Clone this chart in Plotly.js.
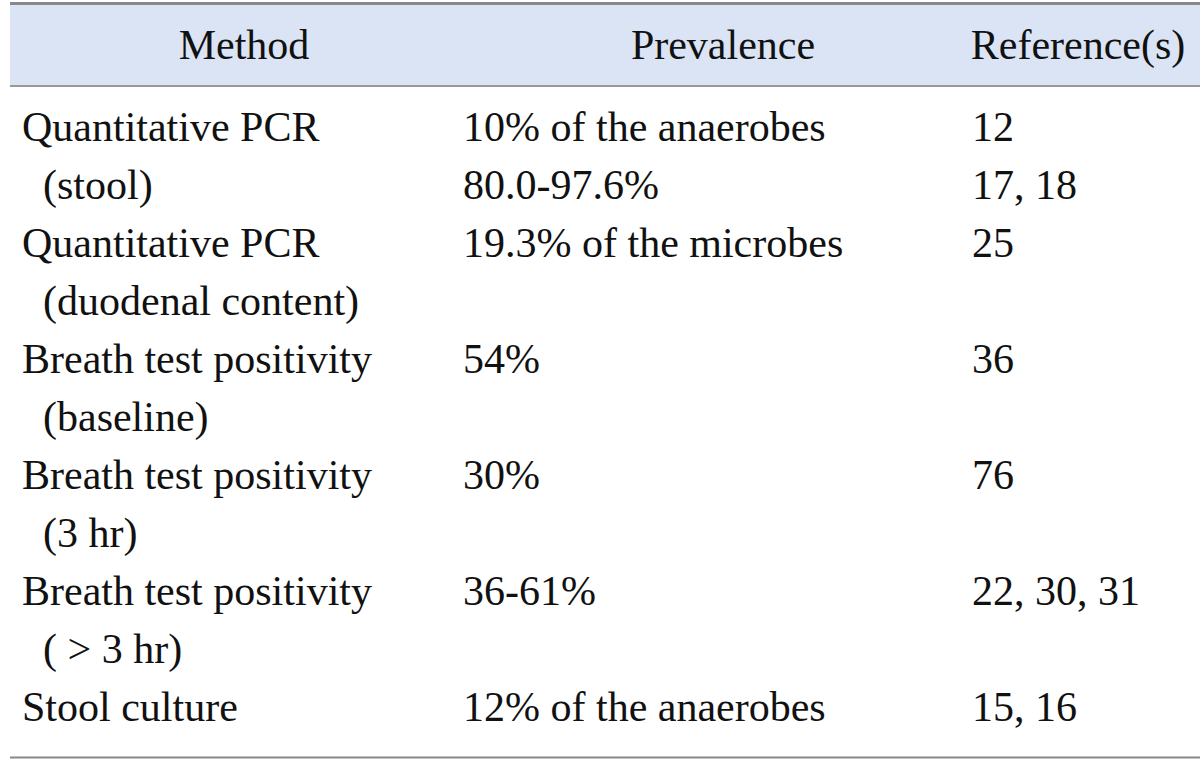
<!DOCTYPE html>
<html>
<head>
<meta charset="utf-8">
<script src="https://cdn.plot.ly/plotly-3.0.1.min.js"></script>
<style>html,body{margin:0;padding:0;background:#fff;}#chart{width:1200px;height:767px;}</style>
</head>
<body>
<div id="chart"></div>
<script>
// Column headers
const headers = ["Method", "Prevalence", "Reference(s)"];
// Each entry is one table row; "\n" marks a line break inside the row
const methods = [
  "Quantitative PCR\n(stool)",
  "Quantitative PCR\n(duodenal content)",
  "Breath test positivity\n(baseline)",
  "Breath test positivity\n(3 hr)",
  "Breath test positivity\n( > 3 hr)",
  "Stool culture"
];
const prevalences = [
  "10% of the anaerobes\n80.0-97.6%",
  "19.3% of the microbes",
  "54%",
  "30%",
  "36-61%",
  "12% of the anaerobes"
];
const references = [
  "12\n17, 18",
  "25",
  "36",
  "76",
  "22, 30, 31",
  "15, 16"
];

// ---- layout constants (pixels) ----
const W = 1200, H = 767;
const FONT = "Liberation Serif, Times New Roman, serif";
const FS = 42;
const tableLeft = 10;
const colLeft = [22, 463, 972];          // left edge of body text in each column
const headerCenter = [244, 723, 1078];   // centre of header text in each column
const topRule = 3.5, headerRule = 86, bottomRule = 757.5;
const headerBaseline = 63, firstBaseline = 145, linePitch = 58;
const MID = 0.35 * FS;                   // baseline offset for 'middle' text

// Expand each row into visual lines (continuation lines of the method are indented)
const col1 = [], col2 = [], col3 = [];
methods.forEach((m, i) => {
  const a = m.split("\n"), b = prevalences[i].split("\n"), c = references[i].split("\n");
  const n = Math.max(a.length, b.length, c.length);
  for (let k = 0; k < n; k++) {
    col1.push(a[k] !== undefined ? (k > 0 ? "\u00a0\u00a0" + a[k] : a[k]) : "");
    col2.push(b[k] || "");
    col3.push(c[k] || "");
  }
});
const lineIdx = col1.map((_, i) => i);
const lineY = lineIdx.map(i => firstBaseline + i * linePitch - MID);

const textFont = {family: FONT, size: FS, color: "#111111"};
const traces = [col1, col2, col3].map((col, j) => ({
  type: "scatter", mode: "text",
  x: col.map(() => colLeft[j]), y: lineY,
  text: col, textposition: "middle right",
  textfont: textFont, hoverinfo: "skip", cliponaxis: false
}));
traces.push({
  type: "scatter", mode: "text",
  x: headerCenter, y: headers.map(() => headerBaseline - MID),
  text: headers, textposition: "middle center",
  textfont: textFont, hoverinfo: "skip", cliponaxis: false
});

const layout = {
  width: W, height: H,
  margin: {l: 0, r: 0, t: 0, b: 0},
  paper_bgcolor: "#ffffff", plot_bgcolor: "rgba(0,0,0,0)",
  showlegend: false,
  xaxis: {range: [0, W], visible: false, fixedrange: true},
  yaxis: {range: [H, 0], visible: false, fixedrange: true},
  shapes: [
    {type: "rect", xref: "paper", yref: "paper", layer: "below",
     x0: tableLeft / W, x1: 1, y0: 1 - headerRule / H, y1: 1 - topRule / H,
     fillcolor: "#dae4f5", line: {width: 0}},
    {type: "line", xref: "paper", yref: "paper", x0: tableLeft / W, x1: 1, y0: 1 - topRule / H, y1: 1 - topRule / H, line: {color: "#888888", width: 3}},
    {type: "line", xref: "paper", yref: "paper", x0: tableLeft / W, x1: 1, y0: 1 - headerRule / H, y1: 1 - headerRule / H, line: {color: "#999999", width: 2}},
    {type: "line", xref: "paper", yref: "paper", x0: tableLeft / W, x1: 1, y0: 1 - bottomRule / H, y1: 1 - bottomRule / H, line: {color: "#888888", width: 2}}
  ]
};

Plotly.newPlot("chart", traces, layout, {displayModeBar: false, staticPlot: true});
</script>
</body>
</html>
